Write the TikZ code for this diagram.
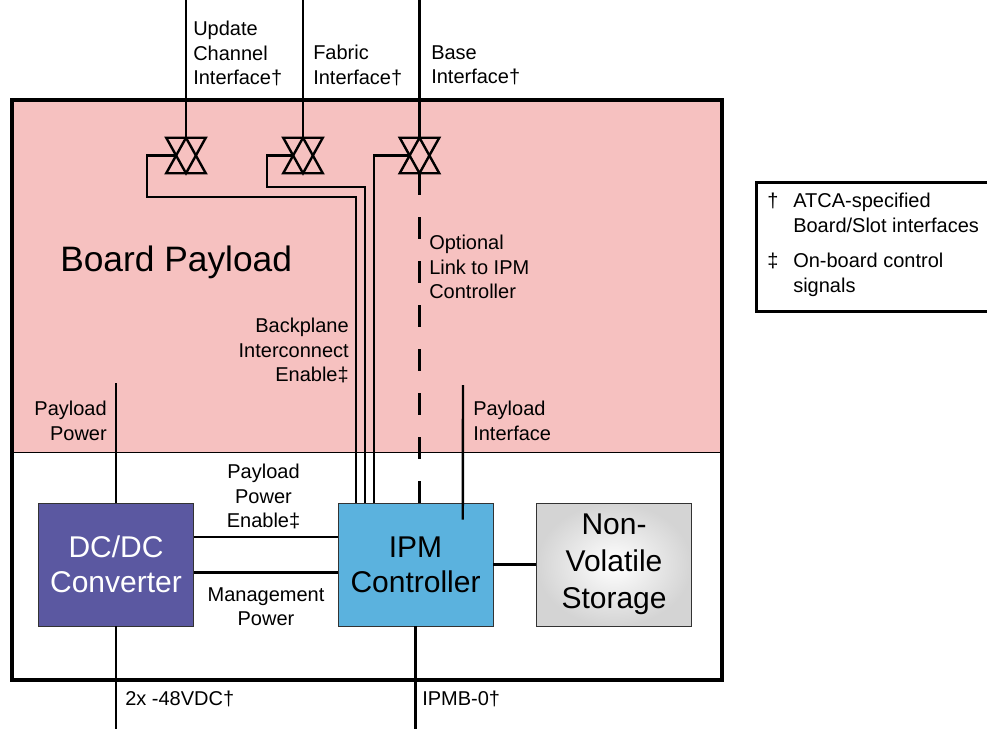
\documentclass[tikz,border=0pt]{standalone}
\usepackage{fontspec}
\setmainfont{Liberation Sans}
\usetikzlibrary{positioning,calc}

\definecolor{payloadpink}{HTML}{F6C1C0}
\definecolor{dcdcpurple}{HTML}{5B58A1}
\definecolor{ipmblue}{HTML}{5BB2DE}
\definecolor{storagegray}{HTML}{D4D4D4}

\newcommand{\smalltxt}{\fontsize{15}{18.4}\selectfont}
\newcommand{\bigtxt}{\fontsize{22.5}{26.5}\selectfont}

\tikzset{
    block/.style={
           rectangle,
           draw=black!80, thin,
           minimum width=116.25pt,
           minimum height=92.25pt,
           inner sep=0pt,
           text centered,
           align=center,
           font=\bigtxt,
           },
    wire/.style={line width=1.8pt},
    gate/.style={minimum width=29.25pt, minimum height=26.25pt, inner sep=0pt},
    lbl/.style={inner sep=0pt, font=\smalltxt},
}

\begin{document}
\begin{tikzpicture}[x=0.75pt, y=-0.75pt, line join=miter,
                    node distance=108pt]
  \useasboundingbox (0,0) rectangle (987,728);

  % board with payload area
  \node[draw=black, semithick, fill=payloadpink, inner sep=0pt,
        minimum width=532.5pt, minimum height=264pt] (payload) at (367,276) {};
  \node[draw=black, line width=3pt, inner sep=0pt,
        minimum width=532.5pt, minimum height=435pt] (board) at (367,390) {};
  \node[lbl, font=\fontsize{26.5}{30}\selectfont, anchor=base west] (title) at (60,271) {Board Payload};

  \node[block, fill=dcdcpurple, text=white] (dcdc) at (116,564.5) {DC/DC\\Converter};
  \node[block, fill=ipmblue] (ipm) [right=of dcdc] {IPM\\Controller};
  \node[block, inner color=white, outer color=storagegray,
        font=\fontsize{22.5}{27.75}\selectfont] (nvs) [right=32.25pt of ipm] {Non-\\Volatile\\Storage};

  % backplane switches
  \node[gate] (sw1) at (186,155.5) {};
  \node[gate] (sw2) at (303,155.5) {};
  \node[gate] (sw3) at (419.5,155.5) {};
  \coordinate (topedge) at (0,-5);
  \coordinate (botedge) at (0,735);
  \foreach \g in {sw1,sw2,sw3} {
    \draw[wire] (\g.north west) -- (\g.north east) -- (\g.south) -- cycle
                (\g.south west) -- (\g.south east) -- (\g.north) -- cycle;
    \draw[wire] (\g.north) -- (\g.north |- topedge);
    \coordinate (\g x) at ($(\g.west)!.5!(\g.center)$);
  }

  \draw[wire] (sw1x) -| (147,197) -| ([xshift=13.5pt]ipm.north west);
  \draw[wire] (sw2x) -| (267,187) -| ([xshift=20.25pt]ipm.north west);
  \draw[wire] (sw3x) -| ([xshift=27pt]ipm.north west);
  \draw[wire, dash pattern=on 16pt off 17pt] (sw3.south |- ipm.north) -- (sw3.south);

  \node[lbl, anchor=north west, align=left] (upd) at (193,21) {Update\\Channel\\Interface†};
  \node[lbl, anchor=north west, align=left] (fab) at (313,45) {Fabric\\Interface†};
  \node[lbl, anchor=north west, align=left] (bas) at (431,45) {Base\\Interface†};

  % payload links
  \coordinate (ppend) at (116,383);
  \coordinate (pifend) at (463,385);
  \draw[wire] (ppend) -- (dcdc.north);
  \draw[wire] (pifend) -- ([xshift=93.75pt, yshift=-12.75pt]ipm.north west);
  \draw[wire] ([yshift=20.6pt]dcdc.east) -- ([yshift=20.6pt]ipm.west);
  \draw[wire] ([yshift=-6.1pt]dcdc.east) -- ([yshift=-6.1pt]ipm.west);
  \draw[wire] (ipm) -- (nvs);
  \draw[wire] (dcdc.south) -- (dcdc.south |- botedge);
  \draw[wire] (ipm.south) -- (ipm.south |- botedge);

  \node[lbl, anchor=north west, align=left] (opt) at (429,235) {Optional\\Link to IPM\\Controller};
  \node[lbl, anchor=north east, align=right] (bie) at (349,318) {Backplane\\Interconnect\\Enable‡};
  \node[lbl, anchor=north east, align=right] (pp) at (107,401) {Payload\\Power};
  \node[lbl, anchor=north west, align=left] (pif) at (473,401) {Payload\\Interface};
  \node[lbl, anchor=north, align=center] (ppe) at (263.5,464) {Payload\\Power\\Enable‡};
  \node[lbl, anchor=north, align=center] (mgmt) at (266,587) {Management\\Power};
  \node[lbl, anchor=base west] (vdc) at (125,705) {2x -48VDC†};
  \node[lbl, anchor=base west] (ipmb) at (422,705) {IPMB-0†};

  % legend
  \node[draw=black, line width=2.5pt, inner sep=0pt, anchor=north west,
        minimum width=200pt, minimum height=96.75pt] (legend) at (755,181) {};
  \node[lbl, anchor=base west] (dag) at (767,207) {†};
  \node[lbl, anchor=north west, align=left] (dagtxt) at (793,193) {ATCA-specified\\Board/Slot interfaces};
  \node[lbl, anchor=base west] (ddag) at (767,267) {‡};
  \node[lbl, anchor=north west, align=left] (ddagtxt) at (793,253) {On-board control\\signals};

\end{tikzpicture}
\end{document}
